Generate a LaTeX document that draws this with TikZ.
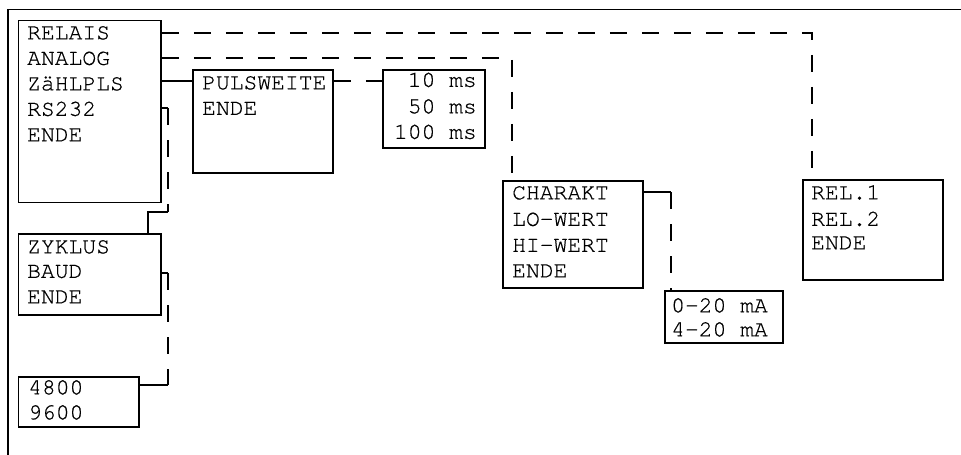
\documentclass[tikz,border=0pt]{standalone}
\usepackage{fontspec}
\setmonofont{texgyrecursor-regular.otf}[FakeBold=0.6]
\begin{document}
\begin{tikzpicture}[x=1pt,y=-1pt,
  box/.style={draw, line width=1.8pt, rectangle, inner sep=0pt, anchor=north west},
  txt/.style={inner sep=0pt, anchor=west, text height=12.7pt, text depth=0pt,
    font=\fontsize{23pt}{25pt}\selectfont\ttfamily},
  link/.style={line width=1.8pt},
  dlink/.style={line width=1.8pt, dash pattern=on 17pt off 15pt},
]
\useasboundingbox (0,0) rectangle (961,455);
\draw[link] (8,455) -- (8,9.5) -- (961,9.5);

% boxes
\node[box, minimum width=142.5pt, minimum height=182pt] (main) at (17.5,19.5) {};
\node[box, minimum width=140pt, minimum height=103pt] (puls) at (192,69) {};
\node[box, minimum width=102pt, minimum height=78pt] (ms) at (382,69) {};
\node[box, minimum width=142.5pt, minimum height=81pt] (zyk) at (17.5,233) {};
\node[box, minimum width=120.5pt, minimum height=50pt] (b48) at (17.5,376) {};
\node[box, minimum width=140pt, minimum height=107pt] (char) at (502,180) {};
\node[box, minimum width=118pt, minimum height=52pt] (ma) at (664,290) {};
\node[box, minimum width=140pt, minimum height=100pt] (rel) at (802,179) {};

% texts
\node[txt] (relais) at (27,33) {RELAIS};
\node[txt] (analog) at (27,58.5) {ANALOG};
\node[txt] (zahl) at (27,84) {ZäHLPLS};
\node[txt] (rs) at (27,109.5) {RS232};
\node[txt] (mende) at (27,135) {ENDE};

\node[txt] (pulsw) at (202,83) {PULSWEITE};
\node[txt] (pende) at (202,108.5) {ENDE};

\node[txt, anchor=east] (t10) at (477,80.5) {10 ms};
\node[txt, anchor=east] (t50) at (477,107) {50 ms};
\node[txt, anchor=east] (t100) at (477,132.5) {100 ms};

\node[txt] (zyklus) at (27,247) {ZYKLUS};
\node[txt] (baud) at (27,271.5) {BAUD};
\node[txt] (zende) at (27,297) {ENDE};

\node[txt] (t4800) at (28,388) {4800};
\node[txt] (t9600) at (28,413) {9600};

\node[txt] (charakt) at (512,193) {CHARAKT};
\node[txt] (lowert) at (512,219.5) {LO-WERT};
\node[txt] (hiwert) at (512,245.5) {HI-WERT};
\node[txt] (cende) at (512,271) {ENDE};

\node[txt] (ma0) at (671,306) {0-20 mA};
\node[txt] (ma4) at (671,330) {4-20 mA};

\node[txt] (rel1) at (811,193) {REL.1};
\node[txt] (rel2) at (811,219.5) {REL.2};
\node[txt] (rende) at (811,243) {ENDE};

% connector points
\coordinate (rsA) at (168,108);
\coordinate (rsB) at (168,212);
\coordinate (rsC) at (148,212);
\coordinate (bdA) at (168,273);
\coordinate (bdB) at (168,385);
\coordinate (chA) at (671,192);
\coordinate (relx) at (812,33);
\coordinate (anx) at (512,58);
\coordinate (pwy) at (192,81);

% connectors
\draw[dlink] (main.east |- relx) -- (relx) -- (relx |- rel.north);
\draw[dlink] (main.east |- anx) -- (anx) -- (anx |- char.north);
\draw[link] (main.east |- pwy) -- (puls.west |- pwy);
\draw[dlink] (puls.east |- pwy) -- (ms.west |- pwy);

\draw[link] (main.east |- rsA) -- (rsA);
\draw[dlink] (rsA) -- (rsB);
\draw[link] (rsB) -- (rsC) -- (rsC |- zyk.north);

\draw[link] (zyk.east |- bdA) -- (bdA);
\draw[dlink] (bdA) -- (bdB);
\draw[link] (bdB) -- (bdB -| b48.east);

\draw[link] (char.east |- chA) -- (chA);
\draw[dlink] (chA) -- (chA |- ma.north);
\end{tikzpicture}
\end{document}
